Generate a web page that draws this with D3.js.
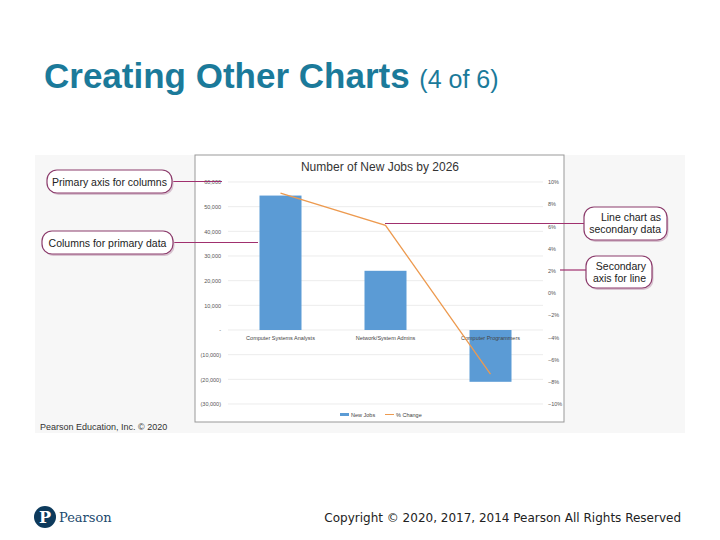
<!DOCTYPE html>
<html><head><meta charset="utf-8">
<script src="https://cdn.jsdelivr.net/npm/d3@7"></script>
<style>body{margin:0;background:#fff}svg{display:block}</style>
</head><body>
<script>
const categories = ["Computer Systems Analysts", "Network/System Admins", "Computer Programmers"];
const newJobs = [54500, 24000, -21000];
const pctChange = [0.090, 0.061, -0.073];
const leftTicks = [60000, 50000, 40000, 30000, 20000, 10000, 0, -10000, -20000, -30000];
const rightTicks = [0.10, 0.08, 0.06, 0.04, 0.02, 0, -0.02, -0.04, -0.06, -0.08, -0.10];

const svg = d3.select("body").append("svg").attr("width", 720).attr("height", 540);

// slide title
const title = svg.append("text").attr("x", 44).attr("y", 88)
  .attr("font-family", "Liberation Sans, Arial").attr("fill", "#1b7a9a");
title.append("tspan").attr("font-size", 35).attr("font-weight", "bold").text("Creating Other Charts ");
title.append("tspan").attr("font-size", 25).text("(4 of 6)");

// gray backdrop of the picture
svg.append("rect").attr("x", 35).attr("y", 155).attr("width", 650).attr("height", 278).attr("fill", "#f7f7f7");
svg.append("text").attr("x", 40).attr("y", 430).attr("font-family", "Liberation Sans, Arial")
  .attr("font-size", 9).attr("fill", "#333").text("Pearson Education, Inc. © 2020");

// chart box
svg.append("rect").attr("x", 195).attr("y", 155).attr("width", 369).attr("height", 267)
  .attr("fill", "#fff").attr("stroke", "#999");
svg.append("text").attr("x", 380).attr("y", 171).attr("text-anchor", "middle")
  .attr("font-family", "Liberation Sans, Arial").attr("font-size", 12).attr("fill", "#333")
  .text("Number of New Jobs by 2026");

const x = d3.scaleBand().domain(categories).range([228, 543]).paddingInner(0.6).paddingOuter(0.3);
const y = d3.scaleLinear().domain([-30000, 60000]).range([404, 182]);
const y2 = d3.scaleLinear().domain([-0.10, 0.10]).range([404, 182]);
const font = "Liberation Sans, Arial";

// gridlines
svg.append("g").selectAll("line").data(leftTicks).join("line")
  .attr("x1", 228).attr("x2", 543).attr("y1", d => y(d)).attr("y2", d => y(d))
  .attr("stroke", "#e4e4e4").attr("stroke-width", 0.7);

const fmt = d => d === 0 ? "-" : d < 0 ? "(" + d3.format(",")(-d) + ")" : d3.format(",")(d);
const yAxis = svg.append("g").attr("transform", "translate(224,0)")
  .call(d3.axisLeft(y).tickValues(leftTicks).tickFormat(fmt).tickSize(0));
yAxis.select(".domain").remove();
yAxis.selectAll("text").attr("font-family", font).attr("font-size", 5.5).attr("fill", "#555");

const y2Axis = svg.append("g").attr("transform", "translate(545,0)")
  .call(d3.axisRight(y2).tickValues(rightTicks).tickFormat(d3.format(".0%")).tickSize(0));
y2Axis.select(".domain").remove();
y2Axis.selectAll("text").attr("font-family", font).attr("font-size", 5.5).attr("fill", "#555");

// bars
svg.append("g").selectAll("rect").data(newJobs).join("rect")
  .attr("x", (d, i) => x(categories[i])).attr("width", x.bandwidth())
  .attr("y", d => y(Math.max(0, d))).attr("height", d => Math.abs(y(d) - y(0)))
  .attr("fill", "#5b9bd5");

// category labels
svg.append("g").selectAll("text").data(categories).join("text")
  .attr("x", d => x(d) + x.bandwidth() / 2).attr("y", y(0) + 10).attr("text-anchor", "middle")
  .attr("font-family", font).attr("font-size", 5.5).attr("fill", "#444").text(d => d);

// line
svg.append("path").datum(pctChange)
  .attr("d", d3.line().x((d, i) => x(categories[i]) + x.bandwidth() / 2).y(d => y2(d)))
  .attr("fill", "none").attr("stroke", "#ed9a4f").attr("stroke-width", 1.3);

// legend
const lg = svg.append("g").attr("font-family", font).attr("font-size", 5.5).attr("fill", "#444");
lg.append("rect").attr("x", 340).attr("y", 413).attr("width", 9).attr("height", 3).attr("fill", "#5b9bd5");
lg.append("text").attr("x", 351).attr("y", 416.5).text("New Jobs");
lg.append("line").attr("x1", 385).attr("x2", 394).attr("y1", 414.5).attr("y2", 414.5)
  .attr("stroke", "#ed9a4f").attr("stroke-width", 1);
lg.append("text").attr("x", 396).attr("y", 416.5).text("% Change");

// callouts
const callouts = [
  {lines: ["Primary axis for columns"], x: 47, y: 170, w: 125, h: 23, tx: 222, ty: 181.5, side: "left"},
  {lines: ["Columns for primary data"], x: 42, y: 231, w: 131, h: 23, tx: 258, ty: 242.5, side: "left"},
  {lines: ["Line chart as", "secondary data"], x: 584, y: 207, w: 83, h: 33, tx: 385, ty: 223.5, side: "right"},
  {lines: ["Secondary", "axis for line"], x: 586, y: 256, w: 66, h: 32, tx: 560, ty: 270, side: "right"}
];
const cg = svg.append("g");
callouts.forEach(c => {
  const sx = c.side === "left" ? c.x + c.w : c.x;
  cg.append("line").attr("x1", sx).attr("x2", c.tx).attr("y1", c.ty).attr("y2", c.ty)
    .attr("stroke", "#a0306e").attr("stroke-width", 1.2);
  cg.append("rect").attr("x", c.x + 1.5).attr("y", c.y + 2).attr("width", c.w).attr("height", c.h)
    .attr("rx", 10).attr("fill", "#d8c3d0");
  cg.append("rect").attr("x", c.x).attr("y", c.y).attr("width", c.w).attr("height", c.h)
    .attr("rx", 10).attr("fill", "#fff").attr("stroke", "#8c3c6c").attr("stroke-width", 1.2);
  const t = cg.append("text").attr("font-family", "Liberation Sans, Arial").attr("font-size", 10.5).attr("fill", "#222")
    .attr("text-anchor", c.side === "left" ? "middle" : "end");
  c.lines.forEach((s, i) => t.append("tspan")
    .attr("x", c.side === "left" ? c.x + c.w / 2 : c.x + c.w - 6)
    .attr("y", c.y + (c.lines.length === 1 ? 15.5 : 14 + i * 12)).text(s));
});

// footer
const logo = svg.append("g");
logo.append("circle").attr("cx", 45).attr("cy", 517).attr("r", 11).attr("fill", "#0d3a5c");
logo.append("text").attr("x", 45).attr("y", 523).attr("text-anchor", "middle").attr("font-family", "DejaVu Serif")
  .attr("font-size", 16).attr("font-weight", "bold").attr("fill", "#fff").text("P");
logo.append("text").attr("x", 59).attr("y", 522).attr("font-family", "DejaVu Serif").attr("font-size", 13)
  .attr("fill", "#1c4a6e").text("Pearson");
svg.append("text").attr("x", 681).attr("y", 522).attr("text-anchor", "end").attr("font-family", "DejaVu Sans")
  .attr("font-size", 12).attr("fill", "#222").text("Copyright © 2020, 2017, 2014 Pearson All Rights Reserved");
</script>
</body></html>
